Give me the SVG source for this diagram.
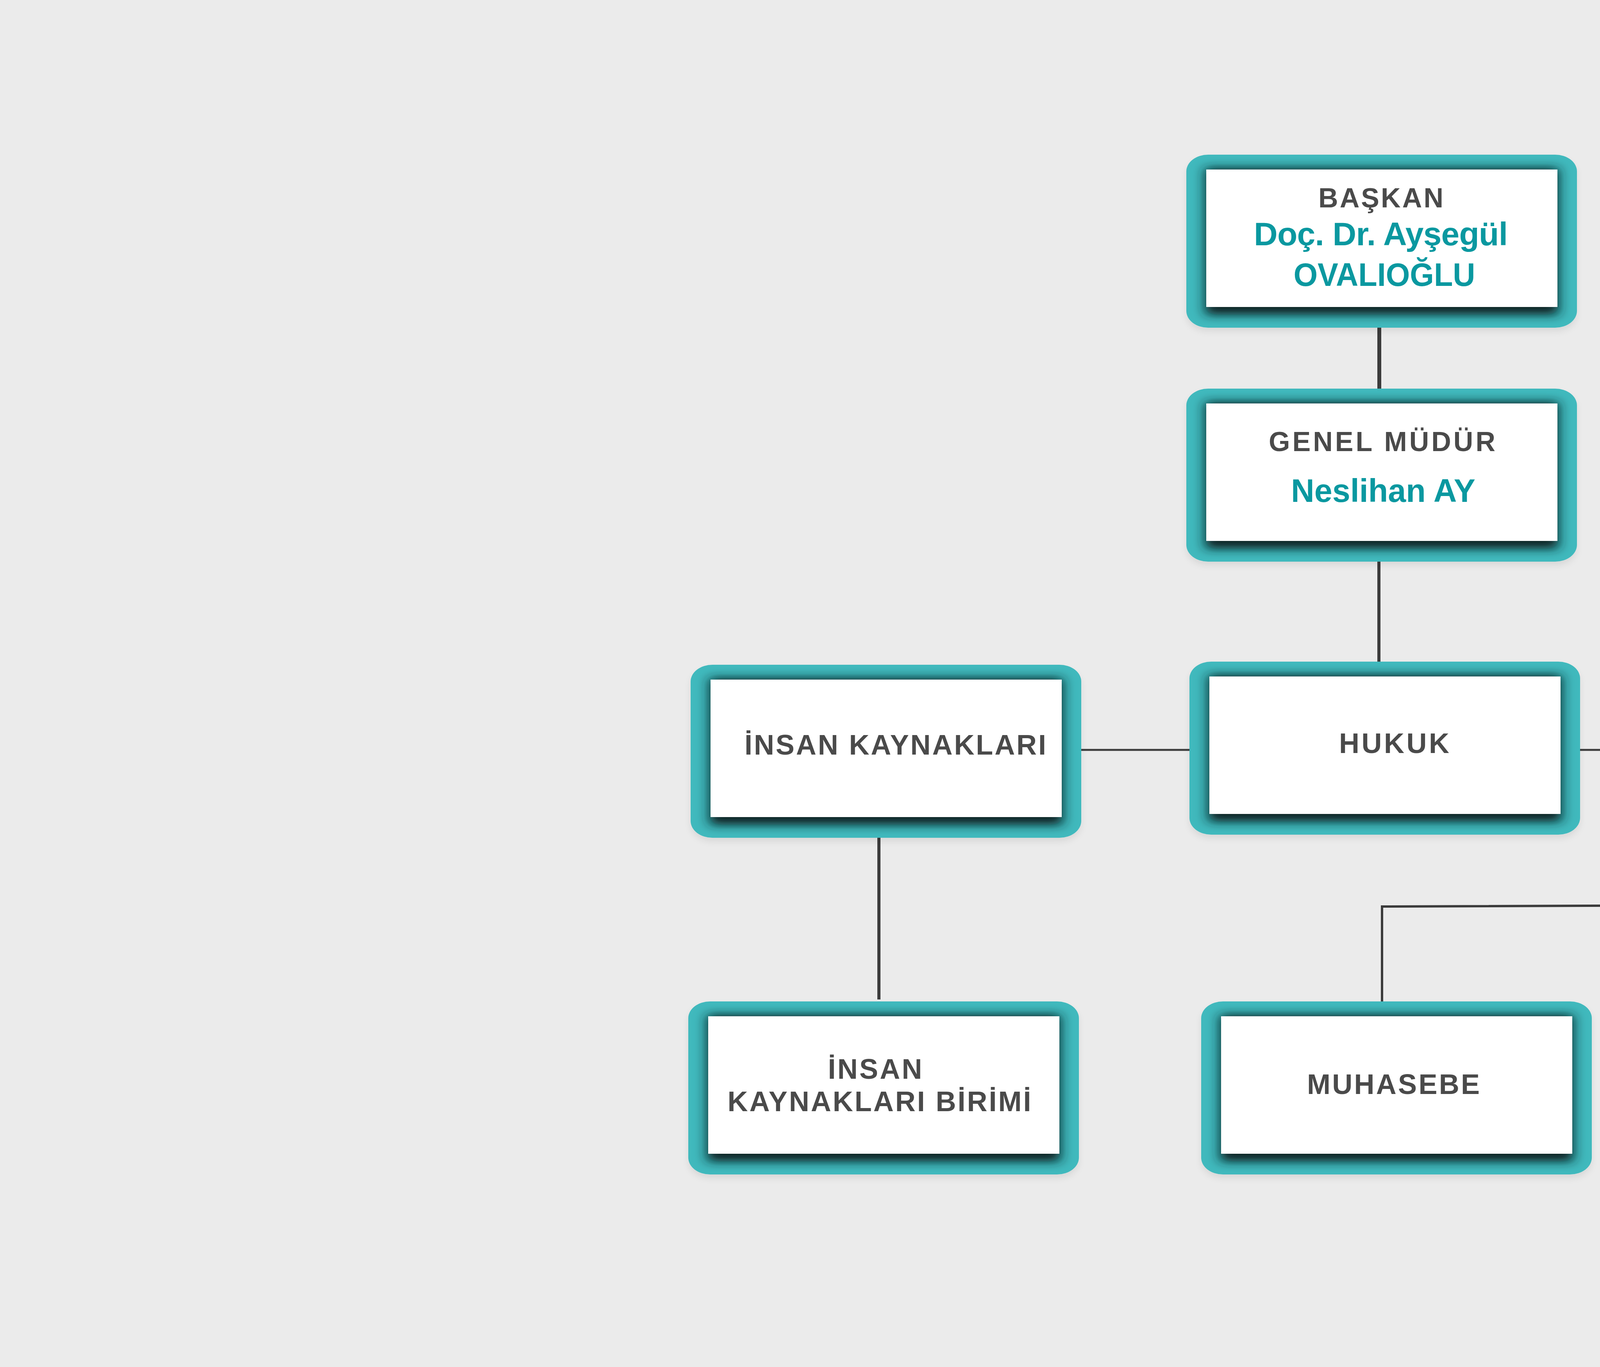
<svg xmlns="http://www.w3.org/2000/svg" xmlns:xlink="http://www.w3.org/1999/xlink" width="7178" height="3500" viewBox="0 0 7178 3500">
  <style>
    .lbl { font-family: "Liberation Sans", Arial, sans-serif; font-weight: 700; font-size: 72px; fill: #4a4a4a; text-anchor: middle; }
    .ttl { font-family: "Liberation Sans", Arial, sans-serif; font-weight: 700; font-size: 70px; fill: #4a4a4a; text-anchor: middle; }
    .name { font-family: "Liberation Sans", Arial, sans-serif; font-weight: 700; font-size: 84px; fill: #0a98a0; text-anchor: middle; }
    .ln { fill: none; stroke: #3b3b3b; stroke-linecap: butt; }
  </style>
  <defs>
    <filter id="outerShadow" x="-5%" y="-5%" width="110%" height="120%">
      <feDropShadow dx="0" dy="10" stdDeviation="8" flood-color="#000" flood-opacity="0.08"/>
    </filter>
    <filter id="cardShadow" x="-12%" y="-25%" width="124%" height="150%">
      <feMorphology in="SourceAlpha" operator="dilate" radius="2 12" result="d"/>
      <feGaussianBlur in="d" stdDeviation="16 12" result="b"/>
      <feOffset in="b" dy="8" result="o"/>
      <feFlood flood-color="#0c2223" flood-opacity="1"/>
      <feComposite in2="o" operator="in" result="s"/>
      <feMerge><feMergeNode in="s"/><feMergeNode in="SourceGraphic"/></feMerge>
    </filter>
    <symbol id="card" overflow="visible">
      <rect x="0" y="0" width="1000" height="443" rx="56" ry="43" fill="#41b9bd" filter="url(#outerShadow)"/>
      <rect x="51" y="38" width="899" height="352" fill="#ffffff" filter="url(#cardShadow)"/>
    </symbol>
  </defs>

  <rect x="0" y="0" width="7178" height="3500" fill="#ebebeb"/>

  <g id="connectors">
    <line class="ln" x1="3531" y1="838" x2="3531" y2="997" stroke-width="10"/>
    <line class="ln" x1="3530" y1="1436" x2="3530" y2="1696" stroke-width="8"/>
    <line class="ln" x1="2766" y1="1920" x2="3047" y2="1920" stroke-width="5"/>
    <line class="ln" x1="4043" y1="1920" x2="4349" y2="1920" stroke-width="5"/>
    <line class="ln" x1="2250" y1="2143" x2="2250" y2="2559" stroke-width="8"/>
    <line class="ln" x1="4873" y1="2136" x2="4873" y2="2317" stroke-width="6"/>
    <polyline class="ln" points="3538,2566 3538,2321 5750,2313 5750,2566" stroke-width="6"/>
  </g>

  <g id="n-baskan">
    <use xlink:href="#card" x="3037" y="396"/>
    <text class="ttl" x="3535" y="531" textLength="320" lengthAdjust="spacing">BAŞKAN</text>
    <text class="name" x="3535" y="628" textLength="650" lengthAdjust="spacing">Doç. Dr. Ayşegül</text>
    <text class="name" x="3544" y="732" textLength="465" lengthAdjust="spacingAndGlyphs">OVALIOĞLU</text>
  </g>

  <g id="n-genel-mudur">
    <use xlink:href="#card" x="3037" y="995"/>
    <text class="ttl" x="3538" y="1155" textLength="580" lengthAdjust="spacing">GENEL MÜDÜR</text>
    <text class="name" x="3541" y="1285" textLength="472" lengthAdjust="spacingAndGlyphs">Neslihan AY</text>
  </g>

  <g id="n-insan-kaynaklari">
    <use xlink:href="#card" x="1768" y="1702"/>
    <text class="lbl" x="2292" y="1932" textLength="772" lengthAdjust="spacing">İNSAN KAYNAKLARI</text>
  </g>

  <g id="n-hukuk">
    <use xlink:href="#card" x="3045" y="1694"/>
    <text class="lbl" x="3569" y="1928" textLength="282" lengthAdjust="spacing">HUKUK</text>
  </g>

  <g id="n-mali-isler">
    <use xlink:href="#card" x="4347" y="1695"/>
    <text class="lbl" x="4872" y="1933" textLength="434" lengthAdjust="spacing">MALİ İŞLER</text>
  </g>

  <g id="n-insan-kaynaklari-birimi">
    <use xlink:href="#card" x="1762" y="2564"/>
    <text class="lbl" x="2240" y="2762" textLength="241" lengthAdjust="spacing">İNSAN</text>
    <text class="lbl" x="2251" y="2845" textLength="777" lengthAdjust="spacing">KAYNAKLARI BİRİMİ</text>
  </g>

  <g id="n-muhasebe">
    <use xlink:href="#card" x="3075" y="2564"/>
    <text class="lbl" x="3567" y="2801" textLength="442" lengthAdjust="spacing">MUHASEBE</text>
  </g>

  <g id="n-satinalma">
    <use xlink:href="#card" x="4186" y="2564"/>
    <text class="lbl" x="4678" y="2800" textLength="460" lengthAdjust="spacing">SATINALMA</text>
  </g>

  <g id="n-idari-isler">
    <use xlink:href="#card" x="5291" y="2564"/>
    <text class="lbl" x="5782" y="2803" textLength="458" lengthAdjust="spacing">İDARİ İŞLER</text>
  </g>
</svg>
